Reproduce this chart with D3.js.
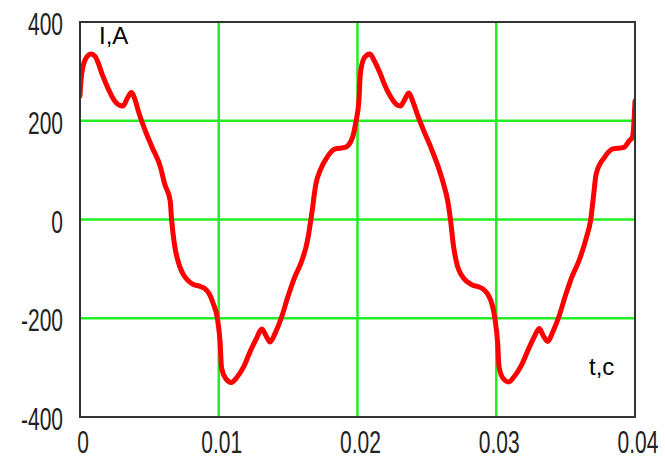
<!DOCTYPE html>
<html>
<head>
<meta charset="utf-8">
<script src="https://cdn.jsdelivr.net/npm/d3@7"></script>
<style>
    html, body { margin: 0; padding: 0; background: #fff; }
    svg { display: block; }
</style>
</head>
<body>
<div id="chart"></div>
<script>
// time, s
const timeS = [
    0, 0.0001, 0.0004, 0.0008, 0.0011, 0.0013, 0.0016, 0.0020, 0.0025, 0.0028, 0.0031, 0.0034, 0.0037,
    0.0040, 0.0042, 0.0047, 0.0052, 0.0058, 0.0061, 0.0065, 0.0066, 0.0068, 0.0072, 0.0075, 0.0078,
    0.0082, 0.0086, 0.0090, 0.0093, 0.0096, 0.0099, 0.0101, 0.0102, 0.0105, 0.0109, 0.0113, 0.0118,
    0.0123, 0.0127, 0.0131, 0.0134, 0.0137, 0.0141, 0.0145, 0.0150, 0.0155, 0.0159, 0.0164, 0.0167,
    0.0170, 0.0173, 0.0178, 0.0184, 0.0191, 0.0196, 0.0199,
    0.0201, 0.0202, 0.0205, 0.0209, 0.0212, 0.0216, 0.0220, 0.0224, 0.0228, 0.0231, 0.0234, 0.0237,
    0.0240, 0.0243, 0.0248, 0.0253, 0.0258, 0.0262, 0.0265, 0.0267, 0.0269, 0.0272, 0.0275, 0.0279,
    0.0283, 0.0287, 0.0291, 0.0294, 0.0297, 0.0299, 0.0301, 0.0302, 0.0305, 0.0309, 0.0313, 0.0318,
    0.0323, 0.0327, 0.0331, 0.0334, 0.0337, 0.0341, 0.0345, 0.0350, 0.0355, 0.0359, 0.0365, 0.0368,
    0.0370, 0.0372, 0.0378, 0.0384, 0.0392, 0.0396, 0.0398, 0.0399, 0.0400
];
// current, A
const currentA = [
    250, 290, 325, 335, 330, 318, 294, 267, 240, 232, 230, 245, 257,
    240, 220, 180, 146, 106, 72, 38, 0, -49, -96, -114, -124,
    -132, -135, -140, -150, -170, -200, -250, -300, -322, -330, -320, -298,
    -265, -242, -222, -235, -248, -228, -200, -155, -115, -90, -42, 11,
    72, 99, 126, 143, 146, 163, 200,
    240, 294, 328, 335, 322, 298, 270, 248, 233, 230, 243, 256,
    238, 214, 178, 145, 108, 72, 38, 0, -50, -94, -113, -126,
    -133, -136, -142, -152, -172, -200, -250, -298, -322, -329, -318, -296,
    -264, -240, -221, -236, -247, -226, -198, -153, -113, -88, -36, -2,
    45, 92, 126, 143, 146, 160, 166, 186, 240
];

const xTicks = [0, 0.01, 0.02, 0.03, 0.04];
const xTickLabels = ["0", "0.01", "0.02", "0.03", "0.04"];
const yTicks = [-400, -200, 0, 200, 400];
const yTickLabels = ["-400", "-200", "0", "200", "400"];
const xGrid = [0.01, 0.02, 0.03];
const yGrid = [-200, 0, 200];

const width = 665;
const height = 462;
const margin = {left: 80, right: 30, top: 22, bottom: 45};

const x = d3.scaleLinear().domain([0, 0.04]).range([margin.left, width - margin.right]);
const y = d3.scaleLinear().domain([-400, 400]).range([height - margin.bottom, margin.top]);

const svg = d3.select("#chart").append("svg")
    .attr("width", width)
    .attr("height", height);

svg.append("defs").append("clipPath")
    .attr("id", "plot-clip")
    .append("rect")
    .attr("x", x(0))
    .attr("y", y(400))
    .attr("width", x(0.04) - x(0))
    .attr("height", y(-400) - y(400));

// сетка
const grid = svg.append("g").attr("stroke", "#22ee22").attr("stroke-width", 2.5);
grid.selectAll(".vgrid")
    .data(xGrid)
    .enter().append("line")
    .attr("x1", d => x(d)).attr("x2", d => x(d))
    .attr("y1", y(400)).attr("y2", y(-400));
grid.selectAll(".hgrid")
    .data(yGrid)
    .enter().append("line")
    .attr("x1", x(0)).attr("x2", x(0.04))
    .attr("y1", d => y(d)).attr("y2", d => y(d));

// кривая тока
const line = d3.line()
    .x((d, i) => x(timeS[i]))
    .y(d => y(d))
    .curve(d3.curveMonotoneX);

svg.append("path")
    .datum(currentA)
    .attr("clip-path", "url(#plot-clip)")
    .attr("fill", "none")
    .attr("stroke", "#ff0000")
    .attr("stroke-width", 5)
    .attr("stroke-linejoin", "round")
    .attr("stroke-linecap", "round")
    .attr("d", line);

// рамка
svg.append("rect")
    .attr("x", x(0))
    .attr("y", y(400))
    .attr("width", x(0.04) - x(0))
    .attr("height", y(-400) - y(400))
    .attr("fill", "none")
    .attr("stroke", "#333")
    .attr("stroke-width", 2);

// подписи осей (шрифт растянут по вертикали, как на картинке)
svg.append("g").selectAll("text")
    .data(yTicks)
    .enter().append("text")
    .attr("transform", d => `translate(63,${y(d) + 2}) scale(1,1.5)`)
    .attr("dy", "0.35em")
    .attr("text-anchor", "end")
    .style("font-family", "Liberation Sans, Arial, sans-serif")
    .style("font-size", "21px")
    .style("fill", "#222")
    .text((d, i) => yTickLabels[i]);

svg.append("g").selectAll("text")
    .data(xTicks)
    .enter().append("text")
    .attr("transform", d => `translate(${x(d) + 3},442) scale(1,1.45)`)
    .attr("dy", "0.35em")
    .attr("text-anchor", "middle")
    .style("font-family", "Liberation Sans, Arial, sans-serif")
    .style("font-size", "21px")
    .style("fill", "#222")
    .text((d, i) => xTickLabels[i]);

svg.append("text")
    .attr("x", 99)
    .attr("y", 44)
    .style("font-family", "Liberation Sans, Arial, sans-serif")
    .style("font-size", "24px")
    .style("fill", "#000")
    .text("I,A");

svg.append("text")
    .attr("x", 589)
    .attr("y", 375)
    .style("font-family", "Liberation Sans, Arial, sans-serif")
    .style("font-size", "24px")
    .style("fill", "#000")
    .text("t,c");
</script>
</body>
</html>
